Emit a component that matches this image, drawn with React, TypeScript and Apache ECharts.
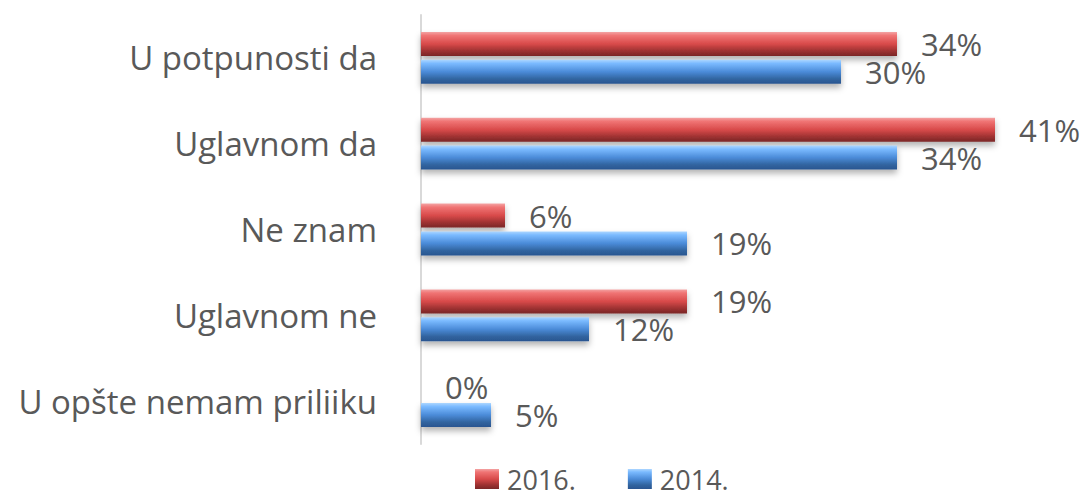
import React, { useEffect, useRef } from "react";
import * as echarts from "echarts";

const categories = ["U potpunosti da", "Uglavnom da", "Ne znam", "Uglavnom ne", "U opšte nemam priliiku"];
const series2016 = [34, 41, 6, 19, 0];
const series2014 = [30, 34, 19, 12, 5];
const seriesNames = ["2016.", "2014."];

const FONT = "'Open Sans', 'Liberation Sans', sans-serif";
const TEXT = "#595959";

export default function App() {
  const ref = useRef<HTMLDivElement>(null);
  useEffect(() => {
    if (!ref.current) return;
    const chart = echarts.init(ref.current, undefined, { renderer: "svg" });
    const red = new echarts.graphic.LinearGradient(0, 0, 0, 1, [
      { offset: 0, color: "#f3a3a3" },
      { offset: 0.15, color: "#f07474" },
      { offset: 0.5, color: "#d84a4a" },
      { offset: 0.8, color: "#9c3131" },
      { offset: 1, color: "#7a2727" },
    ]);
    const blue = new echarts.graphic.LinearGradient(0, 0, 0, 1, [
      { offset: 0, color: "#acd6ff" },
      { offset: 0.15, color: "#7abaff" },
      { offset: 0.5, color: "#4b8bd8" },
      { offset: 0.8, color: "#31649f" },
      { offset: 1, color: "#2a5590" },
    ]);
    const label = {
      show: true,
      position: "right",
      distance: 24,
      formatter: "{c}%",
      fontSize: 31,
      color: TEXT,
      fontFamily: FONT,
    };
    chart.setOption({
      animation: false,
      backgroundColor: "#ffffff",
      grid: { left: 421, right: 39, top: 15, bottom: 54, containLabel: false },
      xAxis: { type: "value", min: 0, max: 45, show: false },
      yAxis: {
        type: "category",
        data: categories,
        inverse: true,
        axisLine: { show: true, lineStyle: { color: "#d9d9d9", width: 2 } },
        axisTick: { show: false },
        splitLine: { show: false },
        axisLabel: { fontSize: 33, color: TEXT, fontFamily: FONT, margin: 44 },
      },
      legend: {
        data: seriesNames,
        left: 470,
        top: 459,
        padding: 5,
        icon: "rect",
        itemWidth: 24,
        itemHeight: 20,
        itemGap: 52,
        textStyle: { fontSize: 27, lineHeight: 30, color: TEXT, fontFamily: FONT, padding: [0, 0, 0, 3] },
      },
      series: [
        {
          name: seriesNames[0],
          type: "bar",
          data: series2016,
          barWidth: 24,
          barGap: "16%",
          itemStyle: { color: red, shadowColor: "rgba(0,0,0,0.3)", shadowBlur: 6, shadowOffsetY: 4 },
          label,
        },
        {
          name: seriesNames[1],
          type: "bar",
          data: series2014,
          barWidth: 24,
          barGap: "16%",
          itemStyle: { color: blue, shadowColor: "rgba(0,0,0,0.3)", shadowBlur: 6, shadowOffsetY: 4 },
          label,
        },
      ],
    });
    return () => chart.dispose();
  }, []);
  return <div ref={ref} style={{ position: "absolute", left: 0, top: 0, width: 1090, height: 498 }} />;
}
